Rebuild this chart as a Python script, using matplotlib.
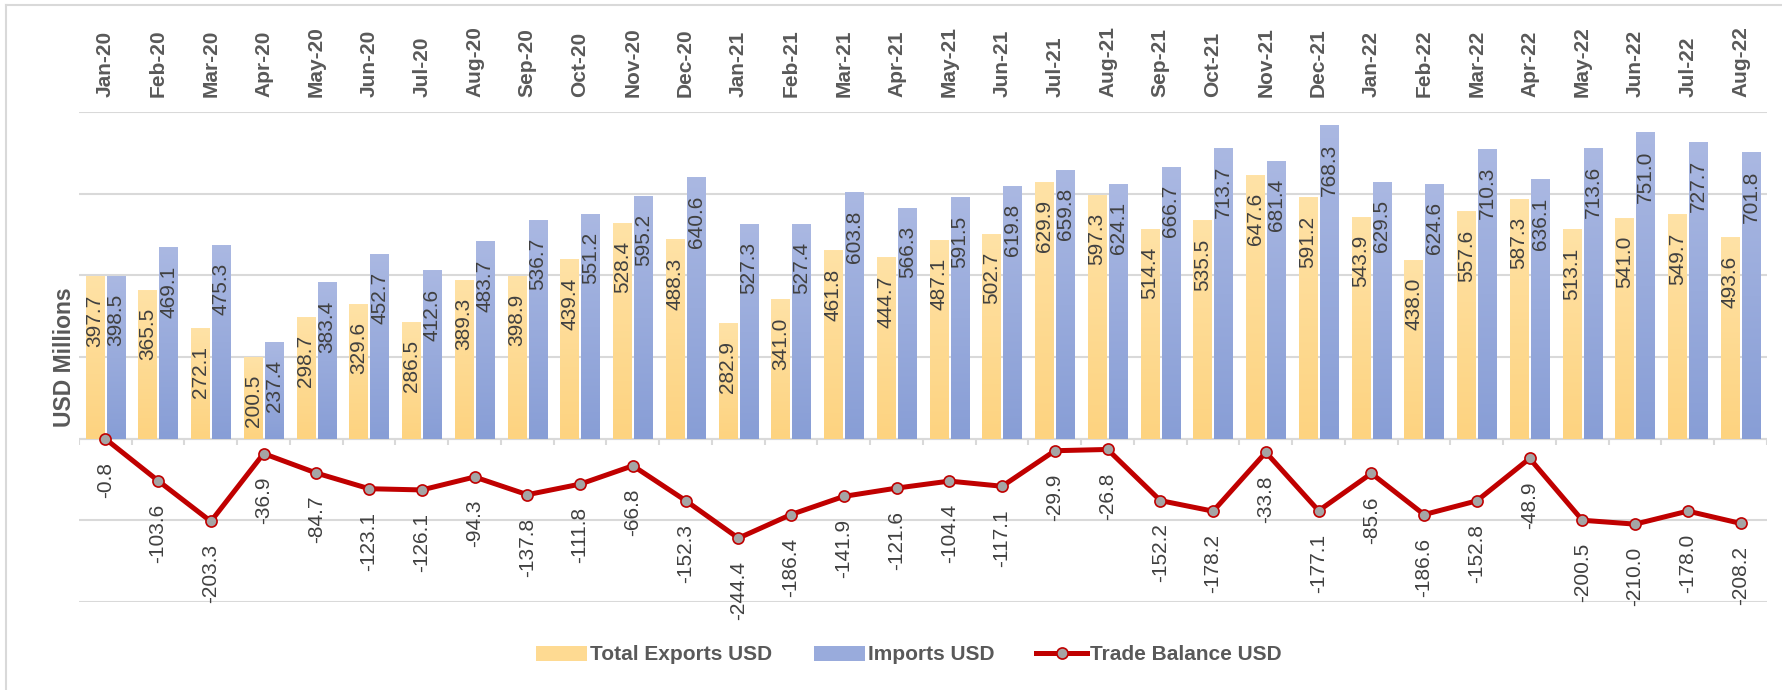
import numpy as np
import matplotlib
matplotlib.use('Agg')
import matplotlib.pyplot as plt
from matplotlib.colors import LinearSegmentedColormap
from matplotlib.patches import Patch
from matplotlib.lines import Line2D

# %%
months = ['Jan-20', 'Feb-20', 'Mar-20', 'Apr-20', 'May-20', 'Jun-20', 'Jul-20', 'Aug-20',
          'Sep-20', 'Oct-20', 'Nov-20', 'Dec-20', 'Jan-21', 'Feb-21', 'Mar-21', 'Apr-21',
          'May-21', 'Jun-21', 'Jul-21', 'Aug-21', 'Sep-21', 'Oct-21', 'Nov-21', 'Dec-21',
          'Jan-22', 'Feb-22', 'Mar-22', 'Apr-22', 'May-22', 'Jun-22', 'Jul-22', 'Aug-22']
exports = [397.7, 365.5, 272.1, 200.5, 298.7, 329.6, 286.5, 389.3, 398.9, 439.4, 528.4, 488.3,
           282.9, 341.0, 461.8, 444.7, 487.1, 502.7, 629.9, 597.3, 514.4, 535.5, 647.6, 591.2,
           543.9, 438.0, 557.6, 587.3, 513.1, 541.0, 549.7, 493.6]
imports = [398.5, 469.1, 475.3, 237.4, 383.4, 452.7, 412.6, 483.7, 536.7, 551.2, 595.2, 640.6,
           527.3, 527.4, 603.8, 566.3, 591.5, 619.8, 659.8, 624.1, 666.7, 713.7, 681.4, 768.3,
           629.5, 624.6, 710.3, 636.1, 713.6, 751.0, 727.7, 701.8]
balance = [-0.8, -103.6, -203.3, -36.9, -84.7, -123.1, -126.1, -94.3, -137.8, -111.8, -66.8, -152.3,
           -244.4, -186.4, -141.9, -121.6, -104.4, -117.1, -29.9, -26.8, -152.2, -178.2, -33.8, -177.1,
           -85.6, -186.6, -152.8, -48.9, -200.5, -210.0, -178.0, -208.2]

plt.rcParams['font.family'] = ['Liberation Sans', 'DejaVu Sans']
grey = '#D9D9D9'
txt = '#595959'
lbl = '#404040'

# %%
fig = plt.figure(figsize=(17.83, 6.90), dpi=100)
ax = fig.add_axes([79 / 1783, 1 - 602 / 690, (1767 - 79) / 1783, (602 - 112) / 690])

x = np.arange(len(months))
w = 0.35
off = 0.2
exp_cmap = LinearSegmentedColormap.from_list('exp', ['#FDD380', '#FFE2A6'])
imp_cmap = LinearSegmentedColormap.from_list('imp', ['#889ED6', '#AAB8E2'])
grad = np.linspace(0, 1, 100).reshape(-1, 1)

bars_e = ax.bar(x - off, exports, w, color='none', zorder=2)
bars_i = ax.bar(x + off, imports, w, color='none', zorder=2)
for bars, cmap in ((bars_e, exp_cmap), (bars_i, imp_cmap)):
    for b in bars:
        ax.imshow(grad, extent=(b.get_x(), b.get_x() + b.get_width(), 0, b.get_height()),
                  origin='lower', aspect='auto', cmap=cmap, zorder=2)
        ax.annotate(f'{b.get_height():.1f}', (b.get_x() + b.get_width() / 2, b.get_height()),
                    xytext=(0, -13), textcoords='offset points', rotation=90,
                    ha='center', va='top', fontsize=15, color=lbl, zorder=5)

ax.plot(x, balance, color='#C00000', lw=3.6, marker='o', ms=8, mfc='#A5A5A5', mec='#C00000',
        mew=1.2, zorder=4, solid_joinstyle='round')
for xi, v in zip(x, balance):
    ax.annotate(f'{v:.1f}', (xi, v), xytext=(0, -16.5), textcoords='offset points', rotation=90,
                ha='center', va='top', fontsize=15, color=lbl, zorder=5)

# axis / grid
ax.axhline(0, color=grey, lw=1.5, zorder=1)
ax.vlines(np.arange(len(months) + 1) - 0.5, -17, 0, color=grey, lw=1.5, zorder=1)
ax.set_yticks(np.arange(-400, 801, 200))
ax.yaxis.grid(True, color=grey, lw=1.5)
ax.set_axisbelow(True)
ax.tick_params(axis='y', length=0, labelleft=False)
ax.set_xticks(x)
ax.set_xticklabels(months, rotation=90, fontsize=15, fontweight='bold', color=txt)
ax.xaxis.tick_top()
ax.tick_params(axis='x', length=0, pad=11)
for s in ax.spines.values():
    s.set_visible(False)
ax.set_xlim(-0.5, len(months) - 0.5)
ax.set_ylim(-401, 801)
ax.set_ylabel('USD Millions', fontsize=16.5, fontweight='bold', color=txt, labelpad=2.5)

# legend
handles = [Patch(facecolor='#FEDA92'), Patch(facecolor='#99ABDC'),
           Line2D([], [], color='#C00000', lw=3.6, marker='o', ms=8, mfc='#A5A5A5', mec='#C00000', mew=1.2)]
fig.legend(handles, ['Total Exports USD', 'Imports USD', 'Trade Balance USD'],
           loc='center', bbox_to_anchor=(909 / 1783, 1 - 655 / 690), ncol=3, frameon=False,
           prop={'weight': 'bold', 'size': 15}, labelcolor=txt,
           handlelength=2.45, handleheight=0.72, handletextpad=0.15, columnspacing=2.0)

# chart border
fig.add_artist(Line2D([6 / 1783, 6 / 1783], [0, 1 - 5 / 690], transform=fig.transFigure, color=grey, lw=1.5))
fig.add_artist(Line2D([6 / 1783, 1], [1 - 5 / 690, 1 - 5 / 690], transform=fig.transFigure, color=grey, lw=1.5))

fig.savefig('out.png', dpi=100)
